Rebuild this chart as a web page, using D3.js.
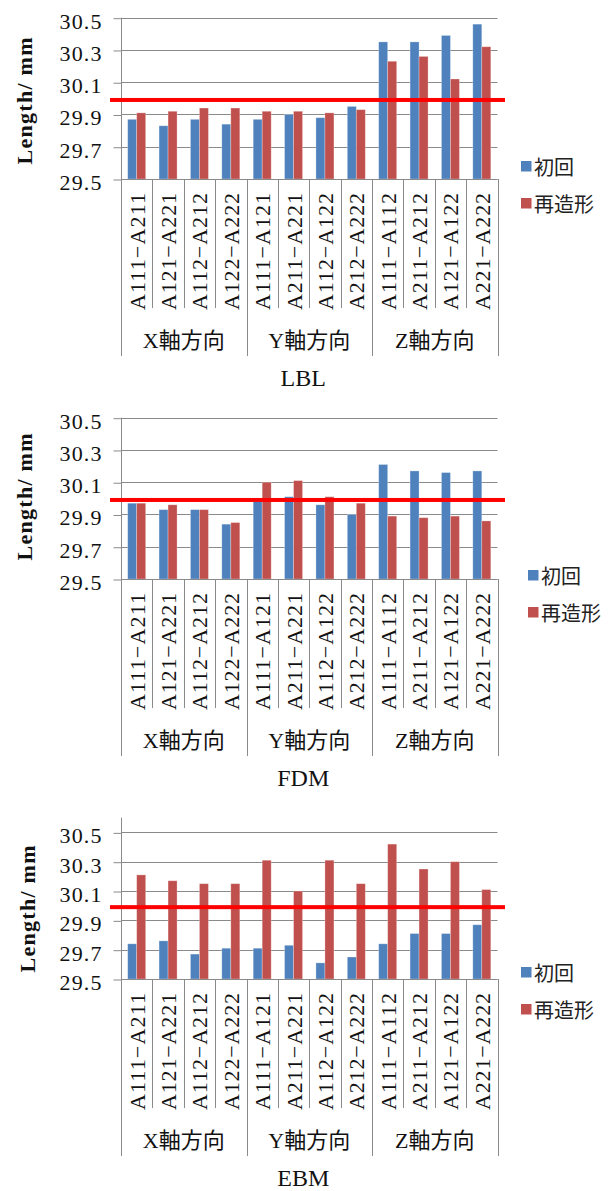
<!DOCTYPE html>
<html>
<head>
<meta charset="utf-8">
<script src="https://cdn.jsdelivr.net/npm/d3@7"></script>
<style>
  html, body { margin: 0; padding: 0; background: #fff; }
  svg { display: block; }
</style>
</head>
<body>
<svg id="chart" width="610" height="1191"></svg>
<script>
// Measured pairs along each axis direction
const categories = ["A111−A211", "A121−A221", "A112−A212", "A122−A222",
                    "A111−A121", "A211−A221", "A112−A122", "A212−A222",
                    "A111−A112", "A211−A212", "A121−A122", "A221−A222"];
const groups = ["X軸方向", "Y軸方向", "Z軸方向"];
const seriesNames = ["初回", "再造形"];
const seriesColors = ["#4F81BD", "#C0504D"];
const yTicks = [29.5, 29.7, 29.9, 30.1, 30.3, 30.5];
const methods = ["LBL", "FDM", "EBM"];
const yMax = [30.5, 30.5, 30.6];

const lblFirst  = [29.87, 29.83, 29.87, 29.84, 29.87, 29.90, 29.88, 29.95, 30.35, 30.35, 30.39, 30.46];
const lblRemade = [29.91, 29.92, 29.94, 29.94, 29.92, 29.92, 29.91, 29.93, 30.23, 30.26, 30.12, 30.32];
const fdmFirst  = [29.97, 29.93, 29.93, 29.84, 29.98, 30.01, 29.96, 29.90, 30.21, 30.17, 30.16, 30.17];
const fdmRemade = [29.97, 29.96, 29.93, 29.85, 30.10, 30.11, 30.01, 29.97, 29.89, 29.88, 29.89, 29.86];
const ebmFirst  = [29.74, 29.76, 29.67, 29.71, 29.71, 29.73, 29.61, 29.65, 29.74, 29.81, 29.81, 29.87];
const ebmRemade = [30.21, 30.17, 30.15, 30.15, 30.31, 30.10, 30.31, 30.15, 30.42, 30.25, 30.30, 30.11];
const targetLength = 29.99;

const panelData = [
  [lblFirst, lblRemade],
  [fdmFirst, fdmRemade],
  [ebmFirst, ebmRemade]
];

const svg = d3.select("#chart");
const serif = "'Liberation Serif', 'Times New Roman', serif";
const cjk = "'Liberation Serif', 'Noto Sans CJK JP', sans-serif";
const gridColor = "#8a8a8a";

const left = 121, right = 497.5;
const legendPos = [{x: 521, y: 166}, {x: 528, y: 575}, {x: 521, y: 972}];
const yTitle = [{x: 24, y: 101}, {x: 24, y: 497}, {x: 27, y: 909}];

methods.forEach((method, pi) => {
  const top = 17.7 + 400 * pi;
  const bottom = 179 + 400 * pi;
  const g = svg.append("g");

  const x = d3.scaleBand().domain(categories).range([left, right])
    .paddingInner(0.426).paddingOuter(0.213);
  const xs = d3.scaleBand().domain(seriesNames).range([0, x.bandwidth()]).padding(0);
  const y = d3.scaleLinear().domain([29.5, yMax[pi]]).range([bottom, top]);

  // horizontal gridlines
  g.append("g").selectAll("line").data(yTicks).join("line")
    .attr("x1", left).attr("x2", right)
    .attr("y1", d => Math.round(y(d)) + 0.5).attr("y2", d => Math.round(y(d)) + 0.5)
    .attr("stroke", gridColor).attr("stroke-width", 1);

  // y axis
  const yAxis = d3.axisLeft(y).tickValues(yTicks).tickSize(8).tickFormat(d3.format(".1f"));
  const ya = g.append("g").attr("transform", `translate(${left + 0.5},0.5)`).call(yAxis);
  ya.attr("font-family", serif);
  ya.select(".domain").attr("stroke", gridColor).attr("d", `M0,${top - 0.5}V${bottom - 0.5}`);
  ya.selectAll(".tick line").attr("stroke", gridColor);
  ya.selectAll(".tick text")
    .attr("x", -20).attr("dy", "0.45em")
    .attr("font-family", serif).attr("font-size", 22).attr("fill", "#111")
    .attr("textLength", 42).attr("lengthAdjust", "spacing");

  // bars
  const rows = categories.map((c, i) => ({cat: c, vals: seriesNames.map((s, k) => ({s, v: panelData[pi][k][i]}))}));
  g.append("g").selectAll("g").data(rows).join("g")
    .attr("transform", d => `translate(${x(d.cat)},0)`)
    .selectAll("rect").data(d => d.vals).join("rect")
    .attr("x", d => xs(d.s)).attr("width", xs.bandwidth())
    .attr("y", d => y(d.v)).attr("height", d => y(29.5) - y(d.v))
    .attr("fill", (d, k) => seriesColors[k])
    .attr("stroke", "rgba(255,255,255,0.35)").attr("stroke-width", 0.8);

  // category axis baseline
  g.append("line").attr("x1", left).attr("x2", right)
    .attr("y1", Math.round(bottom) + 0.5).attr("y2", Math.round(bottom) + 0.5)
    .attr("stroke", gridColor);

  // category dividers (longer between groups)
  const step = x.step();
  const dividers = d3.range(categories.length + 1);
  g.append("g").selectAll("line").data(dividers).join("line")
    .attr("x1", d => Math.round(left + d * step) + 0.5).attr("x2", d => Math.round(left + d * step) + 0.5)
    .attr("y1", bottom).attr("y2", d => bottom + (d % 4 === 0 ? 177 : 129))
    .attr("stroke", gridColor).attr("stroke-width", 1);

  // rotated category labels
  g.append("g").selectAll("text").data(categories).join("text")
    .attr("transform", d => `translate(${x(d) + x.bandwidth() / 2 + 0.5},${bottom + 131}) rotate(-90)`)
    .attr("dominant-baseline", "central")
    .attr("font-family", serif).attr("font-size", 22).attr("fill", "#111")
    .attr("textLength", 117).attr("lengthAdjust", "spacing")
    .text(d => d);

  // group labels
  g.append("g").selectAll("text").data(groups).join("text")
    .attr("x", (d, i) => left + (i * 4 + 2) * step)
    .attr("y", bottom + 161)
    .attr("text-anchor", "middle").attr("dominant-baseline", "central")
    .attr("font-family", cjk).attr("font-size", 22).attr("fill", "#111")
    .text(d => d);

  // method title under the axis
  g.append("text")
    .attr("x", (left + right) / 2 - 6).attr("y", bottom + 207)
    .attr("text-anchor", "middle")
    .attr("font-family", serif).attr("font-size", 24).attr("fill", "#111")
    .text(method);

  // y axis title
  g.append("text")
    .attr("transform", `translate(${yTitle[pi].x},${yTitle[pi].y}) rotate(-90)`)
    .attr("text-anchor", "middle").attr("dominant-baseline", "central")
    .attr("font-family", serif).attr("font-weight", "bold").attr("font-size", 22).attr("fill", "#111")
    .attr("textLength", 127).attr("lengthAdjust", "spacing")
    .text("Length/ mm");

  // target length line
  g.append("rect")
    .attr("x", 110).attr("width", 395)
    .attr("y", y(targetLength) - 2).attr("height", 4)
    .attr("fill", "#FF0000");

  // legend
  const lg = g.append("g").attr("transform", `translate(${legendPos[pi].x},${legendPos[pi].y})`);
  seriesNames.forEach((s, k) => {
    lg.append("rect").attr("x", 0).attr("y", k * 37 - 5).attr("width", 10.5).attr("height", 10.5)
      .attr("fill", seriesColors[k]);
    lg.append("text").attr("x", 13).attr("y", k * 37)
      .attr("dominant-baseline", "central")
      .attr("font-family", "'Noto Sans CJK JP', sans-serif").attr("font-size", 20).attr("fill", "#222")
      .text(s);
  });
});
</script>
</body>
</html>
